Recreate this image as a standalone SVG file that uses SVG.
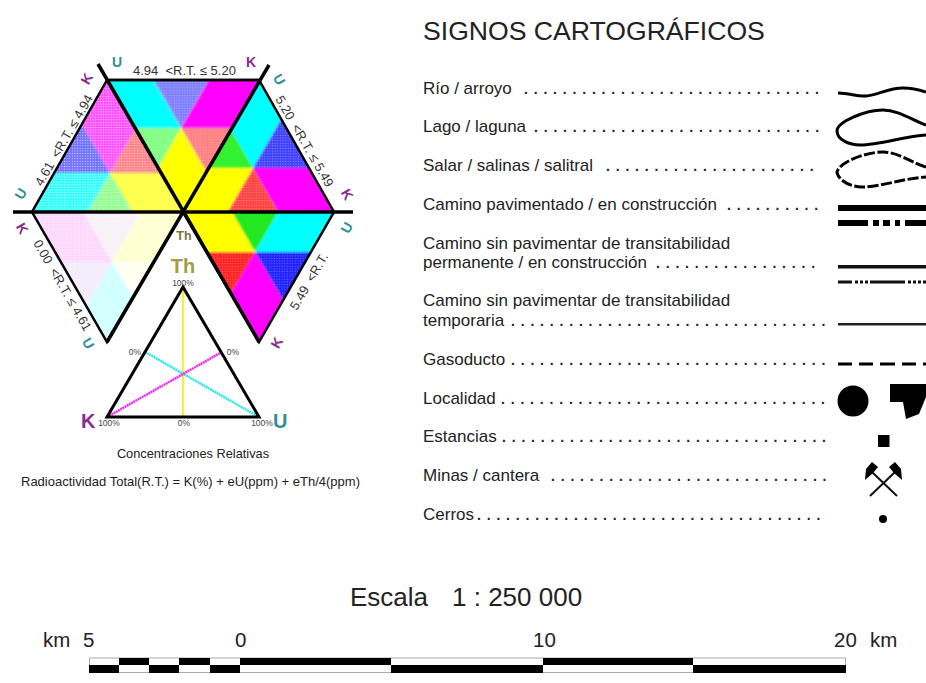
<svg xmlns="http://www.w3.org/2000/svg" width="926" height="683" viewBox="0 0 926 683">
<style>
text{font-family:"Liberation Sans",Arial,sans-serif;fill:#222}
.r{font-size:17px}
.d{font-size:14px;font-weight:bold;letter-spacing:.96px}
.h{font-size:13px;fill:#333}
.c{font-size:14px;font-weight:bold;text-anchor:middle}
.u{fill:#2f8f92}
.k{fill:#8a2c8e}
.p{font-size:8.5px;text-anchor:middle;fill:#444}
.s{font-size:20.5px}
.edge{fill:none;stroke:#000;stroke-width:2.5;stroke-linejoin:miter}
.axis{stroke:#000;stroke-width:3.5;stroke-linecap:butt}
.sym{fill:none;stroke:#000;stroke-width:3}
</style>
<defs>
<polygon id="s1" points="0,0 -100,-173 100,-173"/>
<polygon id="s2" points="0,0 100,-173 200,0"/>
<polygon id="s3" points="0,0 200,0 100,173"/>
<polygon id="s4" points="0,0 100,173 -100,173"/>
<polygon id="s5" points="0,0 -100,173 -200,0"/>
<polygon id="s6" points="0,0 -200,0 -100,-173"/>
<filter id="soft" x="-5%" y="-5%" width="110%" height="110%"><feGaussianBlur stdDeviation="1.3"/></filter>
<pattern id="dots" width="2.6" height="2.6" patternUnits="userSpaceOnUse"><circle cx="1.3" cy="1.3" r=".65" fill="#fff"/></pattern>
<clipPath id="cT"><polygon points="107,80 259,80 183,212"/></clipPath>
<clipPath id="cL"><polygon points="32,212 107,80 183,212"/></clipPath>
<clipPath id="cR"><polygon points="259,80 334,212 183,212"/></clipPath>
<clipPath id="cBR"><polygon points="183,212 334,212 259,342"/></clipPath>
<clipPath id="cBL"><polygon points="32,212 183,212 107,342"/></clipPath>
</defs>
<rect width="926" height="683" fill="#fff"/>

<g id="ternary-hexagon">
<g clip-path="url(#cT)"><g filter="url(#soft)" transform="translate(181,128)">
<use href="#s1" fill="#8080ff"/><use href="#s2" fill="#ff00ff"/><use href="#s3" fill="#ff8080"/><use href="#s4" fill="#ffff00"/><use href="#s5" fill="#80ff80"/><use href="#s6" fill="#00ffff"/>
</g><g transform="translate(181,128)" fill="url(#dots)" opacity=".3"><use href="#s1"/><use href="#s3"/><use href="#s5"/></g></g>
<g clip-path="url(#cL)"><g filter="url(#soft)" transform="translate(110,173)">
<use href="#s1" fill="#ff50ff"/><use href="#s2" fill="#ff8088"/><use href="#s3" fill="#ffff50"/><use href="#s4" fill="#90ff90"/><use href="#s5" fill="#30ffff"/><use href="#s6" fill="#7070ff"/>
</g><g transform="translate(110,173)" fill="url(#dots)" opacity=".7"><use href="#s1"/><use href="#s2"/><use href="#s4"/><use href="#s5"/><use href="#s6"/></g></g>
<g clip-path="url(#cR)"><g filter="url(#soft)" transform="translate(253,168)">
<use href="#s1" fill="#00ffff"/><use href="#s2" fill="#4040ff"/><use href="#s3" fill="#ff00ff"/><use href="#s4" fill="#ff4040"/><use href="#s5" fill="#ffff00"/><use href="#s6" fill="#30f030"/>
</g><g transform="translate(253,168)" fill="url(#dots)" opacity=".4"><use href="#s2"/><use href="#s4"/></g></g>
<g clip-path="url(#cBR)"><g filter="url(#soft)" transform="translate(255,252)">
<use href="#s1" fill="#20e820"/><use href="#s2" fill="#00ffff"/><use href="#s3" fill="#2020ff"/><use href="#s4" fill="#ff00ff"/><use href="#s5" fill="#ff2020"/><use href="#s6" fill="#ffff00"/>
</g><g transform="translate(255,252)" fill="url(#dots)" opacity=".3"><use href="#s3"/><use href="#s5"/></g></g>
<g clip-path="url(#cBL)"><g filter="url(#soft)" transform="translate(112,262)">
<use href="#s1" fill="#f8f2f8"/><use href="#s2" fill="#ffffd4"/><use href="#s3" fill="#fffff2"/><use href="#s4" fill="#d2ffff"/><use href="#s5" fill="#f4ecfa"/><use href="#s6" fill="#fcd8fc"/>
</g><g transform="translate(112,262)" fill="url(#dots)" opacity=".5"><use href="#s1"/><use href="#s5"/><use href="#s6"/></g></g>
<polyline class="edge" points="107,80 259,80"/>
<polygon class="edge" points="107,80 32,212 107,342 183,212 259,342 334,212 259,80"/>
<line class="axis" x1="98" y1="64" x2="259" y2="342"/>
<line class="axis" x1="269" y1="65" x2="107" y2="342"/>
<line class="axis" x1="13" y1="212" x2="353" y2="212"/>

<text class="h" x="133" y="75" xml:space="preserve">4.94  &lt;R.T. ≤ 5.20</text>
<text class="h" transform="translate(42,187) rotate(-60)" xml:space="preserve">4.61  &lt;R.T. ≤ 4.94</text>
<text class="h" transform="translate(275,99) rotate(60)" xml:space="preserve">5.20  &lt;R.T. ≤ 5.49</text>
<text class="h" transform="translate(297,311) rotate(-60)" xml:space="preserve">5.49  &lt;R.T.</text>
<text class="h" transform="translate(33,243) rotate(60)" xml:space="preserve">0.00  &lt;R.T. ≤ 4.61</text>

<text class="c u" transform="translate(117,67)">U</text>
<text class="c k" transform="translate(251,67)">K</text>
<text class="c k" transform="translate(91,81) rotate(-60)">K</text>
<text class="c u" transform="translate(25,196) rotate(-60)">U</text>
<text class="c u" transform="translate(275,82) rotate(60)">U</text>
<text class="c k" transform="translate(343,197) rotate(60)">K</text>
<text class="c k" transform="translate(18,231) rotate(60)">K</text>
<text class="c u" transform="translate(84,346) rotate(60)">U</text>
<text class="c u" transform="translate(351,230) rotate(-60)">U</text>
<text class="c k" transform="translate(281,345) rotate(-60)">K</text>
<text x="184" y="240" font-size="12.500" font-weight="bold" text-anchor="middle" style="fill:#77753a">Th</text>
</g>

<g id="ternary-key">
<text x="183" y="273" font-size="20" font-weight="bold" text-anchor="middle" style="fill:#a39c46">Th</text>
<line x1="183" y1="289" x2="183" y2="417" stroke="#f4ee50" stroke-width="2.5"/>
<line x1="145" y1="352" x2="259" y2="417" stroke="#30e8e8" stroke-width="2.5" stroke-dasharray="2 .5"/>
<line x1="222" y1="352" x2="107" y2="417" stroke="#ee30ee" stroke-width="2.5" stroke-dasharray="2 .5"/>
<polygon class="edge" points="183,287 107,417 259,417" style="stroke-width:3"/>
<text class="p" x="183" y="286">100%</text>
<text class="p" x="135" y="355">0%</text>
<text class="p" x="233" y="355">0%</text>
<text class="p" x="184" y="426">0%</text>
<text class="p" x="109" y="426">100%</text>
<text class="p" x="262" y="426">100%</text>
<text x="81" y="428" font-size="20" font-weight="bold" class="k">K</text>
<text x="273" y="428" font-size="20" font-weight="bold" class="u">U</text>
<text x="193" y="458" font-size="12.800" text-anchor="middle">Concentraciones Relativas</text>
<text x="21" y="486" font-size="13">Radioactividad Total(R.T.) = K(%) + eU(ppm) + eTh/4(ppm)</text>
</g>

<g id="legend-text">
<text x="423" y="40" font-size="26.600">SIGNOS CARTOGRÁFICOS</text>
<text class="r" x="423" y="94">Río / arroyo<tspan class="d" x="524">. . . . . . . . . . . . . . . . . . . . . . . . . . . . . . .</tspan></text>
<text class="r" x="423" y="132">Lago / laguna<tspan class="d" x="534">. . . . . . . . . . . . . . . . . . . . . . . . . . . . . .</tspan></text>
<text class="r" x="423" y="171">Salar / salinas / salitral<tspan class="d" x="606">. . . . . . . . . . . . . . . . . . . . . .</tspan></text>
<text class="r" x="423" y="210">Camino pavimentado / en construcción<tspan class="d" x="727">. . . . . . . . . .</tspan></text>
<text class="r" x="423" y="249">Camino sin pavimentar de transitabilidad</text>
<text class="r" x="423" y="268">permanente / en construcción<tspan class="d" x="656">. . . . . . . . . . . . . . . . .</tspan></text>
<text class="r" x="423" y="306">Camino sin pavimentar de transitabilidad</text>
<text class="r" x="423" y="326">temporaria<tspan class="d" x="511">. . . . . . . . . . . . . . . . . . . . . . . . . . . . . . . . .</tspan></text>
<text class="r" x="423" y="365">Gasoducto<tspan class="d" x="511">. . . . . . . . . . . . . . . . . . . . . . . . . . . . . . . . .</tspan></text>
<text class="r" x="423" y="404">Localidad<tspan class="d" x="501">. . . . . . . . . . . . . . . . . . . . . . . . . . . . . . . . . .</tspan></text>
<text class="r" x="423" y="442">Estancias<tspan class="d" x="502">. . . . . . . . . . . . . . . . . . . . . . . . . . . . . . . . . .</tspan></text>
<text class="r" x="423" y="481">Minas / cantera<tspan class="d" x="551">. . . . . . . . . . . . . . . . . . . . . . . . . . . . .</tspan></text>
<text class="r" x="423" y="520">Cerros<tspan class="d" x="477">. . . . . . . . . . . . . . . . . . . . . . . . . . . . . . . . . . . .</tspan></text>
</g>

<g id="legend-symbols">
<path class="sym" d="M838,93 C850,93 857,97 866,96 C878,95 888,88 903,88 C912,88 920,90 926,92"/>
<path class="sym" d="M926,125 C912,120 898,110 883,110 C865,110 837,122 837,131 C837,140 850,145 860,145 C880,145 905,136 926,135"/>
<path class="sym" stroke-dasharray="11 2.5" d="M926,167 C912,163 898,152 883,152 C865,152 837,163 837,173 C840,182 852,187 862,187 C880,187 905,178 926,177"/>
<rect x="838" y="205" width="88" height="6" fill="#000"/>
<path fill="#000" d="M838,220h30v6h-30zM873,220h6v6h-6zM883,220h7v6h-7zM895,220h5v6h-5zM905,220h21v6h-21z"/>
<rect x="838" y="265" width="88" height="3.500" fill="#111"/>
<path fill="#111" d="M838,280.500h14v3h-14zM855,280.500h3v3h-3zM860,280.500h3v3h-3zM865,280.500h3v3h-3zM870,280.500h35v3h-35zM908,280.500h3v3h-3zM913,280.500h3v3h-3zM918,280.500h3v3h-3zM923,280.500h3v3h-3z"/>
<rect x="838" y="323" width="88" height="2.500" fill="#222"/>
<path fill="#000" d="M838,362.500h14v3h-14zM859,362.500h14v3h-14zM880,362.500h15v3h-15zM902,362.500h14v3h-14zM923,362.500h3v3h-3z"/>
<circle cx="853" cy="401" r="15.500" fill="#000"/>
<polygon fill="#000" points="890,384 926,384 926,397 919,414 906,419 903,402 890,402"/>
<rect x="878" y="435" width="11.500" height="12" fill="#000"/>
<g id="mine">
<path d="M870,496 L895,472 M897,496 L872,472" stroke="#111" stroke-width="2" fill="none"/>
<polygon fill="#000" points="865,480 866,469 872,462 878,467 873,473"/>
<polygon fill="#000" points="902,480 901,469 895,462 889,467 894,473"/>
</g>
<circle cx="883" cy="519" r="4" fill="#000"/>
</g>

<g id="scale">
<text x="350" y="606" font-size="26">Escala<tspan x="452">1 : 250 000</tspan></text>
<text class="s" x="43" y="647">km</text>
<text class="s" x="83" y="647">5</text>
<text class="s" x="235" y="647">0</text>
<text class="s" x="533" y="647">10</text>
<text class="s" x="834" y="647">20</text>
<text class="s" x="870" y="647">km</text>
<rect x="89.500" y="658" width="756" height="14.500" fill="#fff" stroke="#aaa"/>
<path fill="#000" d="M119,658h30v7h-30zM179,658h31v7h-31zM240,658h151v7h-151zM543,658h150v7h-150zM89,665h30v8h-30zM149,665h30v8h-30zM210,665h30v8h-30zM391,665h152v8h-152zM693,665h153v8h-153z"/>
</g>
</svg>
